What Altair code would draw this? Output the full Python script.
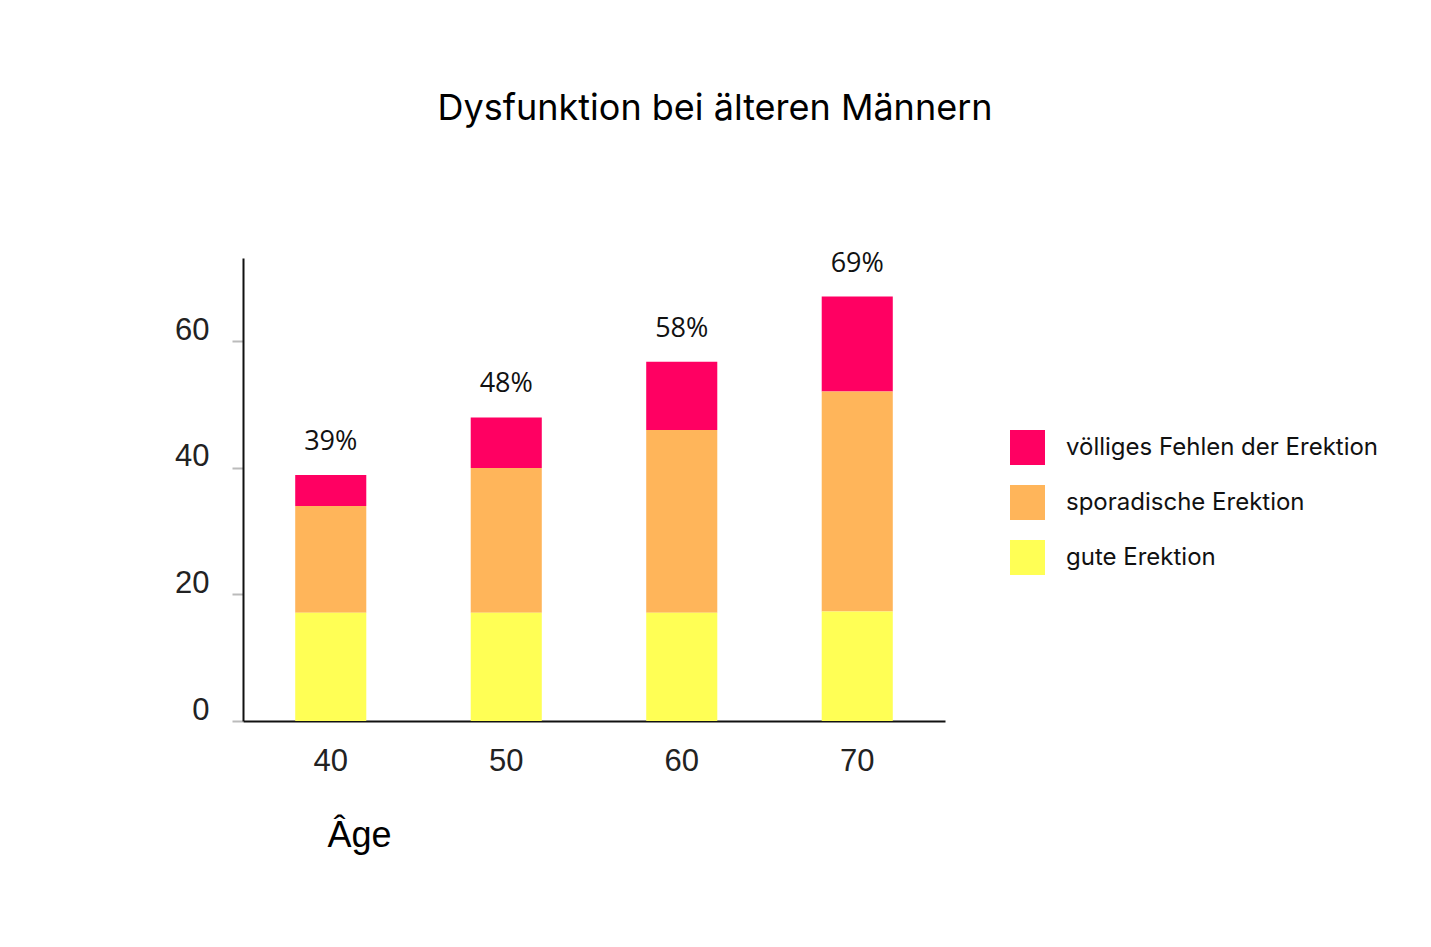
import altair as alt
import pandas as pd

ages = ["40", "50", "60", "70"]
categories = ["völliges Fehlen der Erektion", "sporadische Erektion", "gute Erektion"]
colors = ["#FF0062", "#FFB55A", "#FFFF55"]
stack_rank = [2, 1, 0]
gute = [17.1, 17.1, 17.1, 17.3]
sporadisch = [16.9, 22.9, 28.9, 34.8]
voellig = [4.9, 8.0, 10.8, 15.0]
pct_labels = ["39%", "48%", "58%", "69%"]

series = {categories[0]: voellig, categories[1]: sporadisch, categories[2]: gute}
rows = []
for ci, cat in enumerate(categories):
    for ai, age in enumerate(ages):
        rows.append({"Alter": age, "Kategorie": cat, "Wert": series[cat][ai], "Rang": stack_rank[ci]})
df = pd.DataFrame(rows)

totals = pd.DataFrame({
    "Alter": ages,
    "Summe": [g + s + v for g, s, v in zip(gute, sporadisch, voellig)],
    "Label": pct_labels,
})

AXFONT = "Arial, Liberation Sans, sans-serif"

x_enc = alt.X(
    "Alter:N",
    sort=ages,
    scale=alt.Scale(paddingInner=0.595, paddingOuter=0.2975),
    axis=alt.Axis(
        title="Âge",
        labelAngle=0,
        ticks=False,
        domainColor="#111111",
        domainWidth=2,
        labelFont=AXFONT,
        labelFontSize=31,
        labelColor="#222222",
        labelPadding=25,
        titleFont=AXFONT,
        titleFontSize=36,
        titleFontWeight="normal",
        titleColor="#000000",
        titleX=116,
        titleY=125,
        titleAlign="center",
        titleBaseline="alphabetic",
    ),
)

y_scale = alt.Scale(domain=[0, 73.2], nice=False)

bars = alt.Chart(df).mark_bar().encode(
    x=x_enc,
    y=alt.Y(
        "Wert:Q",
        stack="zero",
        scale=y_scale,
        axis=alt.Axis(
            title=None,
            values=[0, 20, 40, 60],
            grid=False,
            domainColor="#111111",
            domainWidth=2,
            tickColor="#BBBBBB",
            tickSize=11,
            tickWidth=2,
            labelFont=AXFONT,
            labelFontSize=31,
            labelColor="#222222",
            labelPadding=23,
            labelOffset=-11,
        ),
    ),
    color=alt.Color(
        "Kategorie:N",
        scale=alt.Scale(domain=categories, range=colors),
        legend=alt.Legend(
            title=None,
            orient="none",
            legendX=767,
            legendY=172,
            symbolType="square",
            symbolSize=1225,
            symbolStrokeWidth=0,
            symbolOpacity=1,
            rowPadding=20,
            labelFont="Inter",
            labelFontSize=24,
            labelColor="#111111",
            labelOffset=21,
            labelLimit=500,
            padding=0,
        ),
    ),
    order=alt.Order("Rang:Q", sort="ascending"),
)

labels = alt.Chart(totals).mark_text(
    font="Open Sans", fontSize=27, color="#111111", baseline="alphabetic", dy=-25
).encode(
    x=alt.X("Alter:N", sort=ages),
    y=alt.Y("Summe:Q", scale=y_scale),
    text="Label:N",
)

chart = (
    alt.layer(bars, labels)
    .properties(
        width=702,
        height=463,
        background="white",
        autosize=alt.AutoSizeParams(type="none"),
        padding={"left": 235, "top": 250, "right": 478, "bottom": 210},
        title=alt.TitleParams(
            "Dysfunktion bei älteren Männern",
            font="Inter",
            fontSize=36,
            fontWeight="normal",
            color="#000000",
            anchor="middle",
            frame="group",
            dx=121,
            baseline="alphabetic",
            offset=94,
        ),
    )
    .configure_view(stroke=None, strokeWidth=0)
)

chart.save("out.html", embed_options={"renderer": "svg", "actions": False})
